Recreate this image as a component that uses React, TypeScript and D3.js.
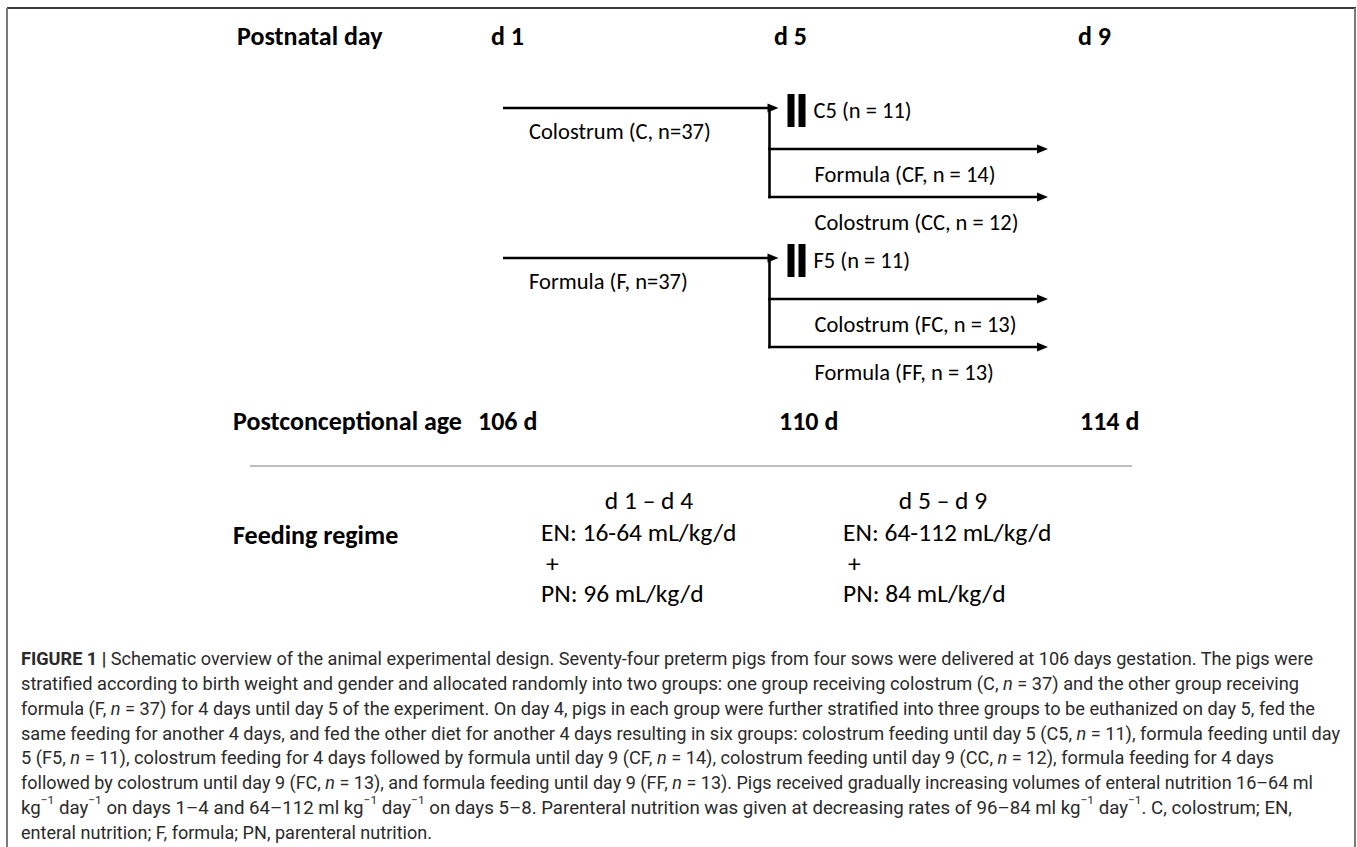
import React from "react";
import * as d3 from "d3";

// ---- data ----
const POSTNATAL_DAYS = [1, 5, 9];
const AGE_DAYS = [106, 110, 114];
const INITIAL_CODES = ["C", "F"];
const INITIAL_DIETS = ["Colostrum", "Formula"];
const INITIAL_N = [37, 37];
const EUTH_CODES = ["C5", "F5"];
const EUTH_N = [11, 11];
const BRANCH_CODES = [["CF", "CC"], ["FC", "FF"]];
const BRANCH_DIETS = [["Formula", "Colostrum"], ["Colostrum", "Formula"]];
const BRANCH_N = [[14, 12], [13, 13]];
const FEED_PERIODS = ["d 1 \u2013 d 4", "d 5 \u2013 d 9"];
const EN_RANGES = ["16-64", "64-112"];
const PN_RATES = ["96", "84"];

type Seg = { t: string; b?: boolean; i?: boolean; sup?: boolean };
const CAPTION: Seg[][] = [
  [{ t: "FIGURE 1 | ", b: true }, { t: "Schematic overview of the animal experimental design. Seventy-four preterm pigs from four sows were delivered at 106 days gestation. The pigs were" }],
  [{ t: "stratified according to birth weight and gender and allocated randomly into two groups: one group receiving colostrum (C, " }, { t: "n", i: true }, { t: " = 37) and the other group receiving" }],
  [{ t: "formula (F, " }, { t: "n", i: true }, { t: " = 37) for 4 days until day 5 of the experiment. On day 4, pigs in each group were further stratified into three groups to be euthanized on day 5, fed the" }],
  [{ t: "same feeding for another 4 days, and fed the other diet for another 4 days resulting in six groups: colostrum feeding until day 5 (C5, " }, { t: "n", i: true }, { t: " = 11), formula feeding until day" }],
  [{ t: "5 (F5, " }, { t: "n", i: true }, { t: " = 11), colostrum feeding for 4 days followed by formula until day 9 (CF, " }, { t: "n", i: true }, { t: " = 14), colostrum feeding until day 9 (CC, " }, { t: "n", i: true }, { t: " = 12), formula feeding for 4 days" }],
  [{ t: "followed by colostrum until day 9 (FC, " }, { t: "n", i: true }, { t: " = 13), and formula feeding until day 9 (FF, " }, { t: "n", i: true }, { t: " = 13). Pigs received gradually increasing volumes of enteral nutrition 16\u201364 ml" }],
  [{ t: "kg" }, { t: "\u22121", sup: true }, { t: " day" }, { t: "\u22121", sup: true }, { t: " on days 1\u20134 and 64\u2013112 ml kg" }, { t: "\u22121", sup: true }, { t: " day" }, { t: "\u22121", sup: true }, { t: " on days 5\u20138. Parenteral nutrition was given at decreasing rates of 96\u201384 ml kg" }, { t: "\u22121", sup: true }, { t: " day" }, { t: "\u22121", sup: true }, { t: ". C, colostrum; EN," }],
  [{ t: "enteral nutrition; F, formula; PN, parenteral nutrition." }],
];
const CAPTION_ENDS = [1313, 1299, 1315, 1340, 1274, 1313, 1292, 432];

const W = 1357;
const H = 847;
const DIAG_FONT = "Carlito, Lato, 'Open Sans', sans-serif";
const CAP_FONT = "'Liberation Sans Narrow', Roboto, 'Liberation Sans', sans-serif";

function Arrow({ x1, x2, y }: { x1: number; x2: number; y: number }) {
  const head = 11;
  return (
    <g>
      <line x1={x1} x2={x2 - head + 1} y1={y} y2={y} stroke="#000" strokeWidth={2.6} />
      <path d={`M${x2},${y} L${x2 - head},${y - 4.5} L${x2 - head},${y + 4.5} Z`} fill="#000" />
    </g>
  );
}

export default function App() {
  const x = d3.scaleLinear().domain([1, 9]).range([503, 1048]);
  const groupY = d3.scalePoint<string>().domain(INITIAL_CODES).range([108, 258]);
  const branchOffset = d3.scaleLinear().domain([0, 1]).range([41, 89]);
  const ageX = d3.scaleLinear().domain([106, 114]).range([478, 1080]);
  const feedX = d3.scalePoint<string>().domain(FEED_PERIODS).range([541, 843]);
  const capY = d3.scaleLinear().domain([0, 7]).range([658, 832]);
  const x5 = x(5);

  const dayLabelX = (d: number) => (d === 1 ? 491 : d === 5 ? 774 : 1078);
  const LBL = 22.5;
  const FEED = 25.5;
  const HEAD = 26;

  return (
    <svg
      width={W}
      height={H}
      style={{ position: "absolute", left: 0, top: 0, background: "#fff" }}
    >
      <rect x={0} y={0} width={W} height={H} fill="#fff" />
      {/* frame */}
      <line x1={7} x2={1356} y1={8} y2={8} stroke="#3c3c3c" strokeWidth={2} />
      <line x1={7} x2={7} y1={8} y2={H} stroke="#7a7a7a" strokeWidth={2} />
      <line x1={1355} x2={1355} y1={8} y2={H} stroke="#7a7a7a" strokeWidth={2} />

      <g fontFamily={DIAG_FONT} fill="#000">
        <text x={237} y={36} fontSize={HEAD} fontWeight="bold" dominantBaseline="central">
          Postnatal day
        </text>
        {POSTNATAL_DAYS.map((d) => (
          <text key={d} x={dayLabelX(d)} y={36} fontSize={HEAD} fontWeight="bold" dominantBaseline="central">
            {`d ${d}`}
          </text>
        ))}

        {INITIAL_CODES.map((code, gi) => {
          const y0 = groupY(code)!;
          const lastY = y0 + branchOffset(1);
          return (
            <g key={code}>
              <Arrow x1={x(1)} x2={x5 + 3} y={y0} />
              <text x={529} y={y0 + 23} fontSize={LBL} dominantBaseline="central">
                {`${INITIAL_DIETS[gi]} (${code}, n=${INITIAL_N[gi]})`}
              </text>
              <line x1={x5 - 6} x2={x5 - 6} y1={y0} y2={lastY + 1.3} stroke="#000" strokeWidth={2.6} />
              <rect x={x5 + 12} y={y0 - 14} width={7} height={33} fill="#000" />
              <rect x={x5 + 23} y={y0 - 14} width={7} height={33} fill="#000" />
              <text x={x5 + 38} y={y0 + 2} fontSize={LBL} dominantBaseline="central">
                {`${EUTH_CODES[gi]} (n = ${EUTH_N[gi]})`}
              </text>
              {BRANCH_CODES[gi].map((bc, bi) => {
                const yb = y0 + branchOffset(bi);
                return (
                  <g key={bc}>
                    <Arrow x1={x5 - 7.3} x2={x(9)} y={yb} />
                    <text x={x5 + 39} y={yb + 25} fontSize={LBL} dominantBaseline="central">
                      {`${BRANCH_DIETS[gi][bi]} (${bc}, n = ${BRANCH_N[gi][bi]})`}
                    </text>
                  </g>
                );
              })}
            </g>
          );
        })}

        <text x={233} y={421} fontSize={HEAD} fontWeight="bold" dominantBaseline="central">
          Postconceptional age
        </text>
        {AGE_DAYS.map((a) => (
          <text key={a} x={ageX(a)} y={421} fontSize={HEAD} fontWeight="bold" dominantBaseline="central">
            {`${a} d`}
          </text>
        ))}
      </g>

      <line x1={250} x2={1132} y1={466} y2={466} stroke="#a8a8a8" strokeWidth={1.6} />

      <g fontFamily={DIAG_FONT} fill="#000">
        <text x={233} y={535} fontSize={HEAD} fontWeight="bold" dominantBaseline="central">
          Feeding regime
        </text>
        {FEED_PERIODS.map((p, i) => {
          const fx = feedX(p)!;
          return (
            <g key={p}>
              <text x={fx + (i === 0 ? 108 : 100)} y={500} fontSize={FEED} textAnchor="middle" dominantBaseline="central">
                {p}
              </text>
              <text x={fx} y={532} fontSize={FEED} dominantBaseline="central">
                {`EN: ${EN_RANGES[i]} mL/kg/d`}
              </text>
              <text x={fx + 5} y={563} fontSize={FEED} dominantBaseline="central">
                +
              </text>
              <text x={fx} y={593} fontSize={FEED} dominantBaseline="central">
                {`PN: ${PN_RATES[i]} mL/kg/d`}
              </text>
            </g>
          );
        })}
      </g>

      <g fontFamily={CAP_FONT} fill="#2a2a2a" fontSize={18}>
        {CAPTION.map((line, li) => (
          <text
            key={li}
            x={21}
            y={capY(li)}
            dominantBaseline="central"
            textLength={CAPTION_ENDS[li] - 21}
            lengthAdjust="spacingAndGlyphs"
          >
            {line.map((s, si) =>
              s.sup ? (
                <tspan key={si} fontSize={11.5} dy={-7}>
                  {s.t}
                </tspan>
              ) : (
                <tspan
                  key={si}
                  fontWeight={s.b ? "bold" : undefined}
                  fontStyle={s.i ? "italic" : undefined}
                  dy={si > 0 && line[si - 1].sup ? 7 : 0}
                >
                  {s.t}
                </tspan>
              )
            )}
          </text>
        ))}
      </g>
    </svg>
  );
}
